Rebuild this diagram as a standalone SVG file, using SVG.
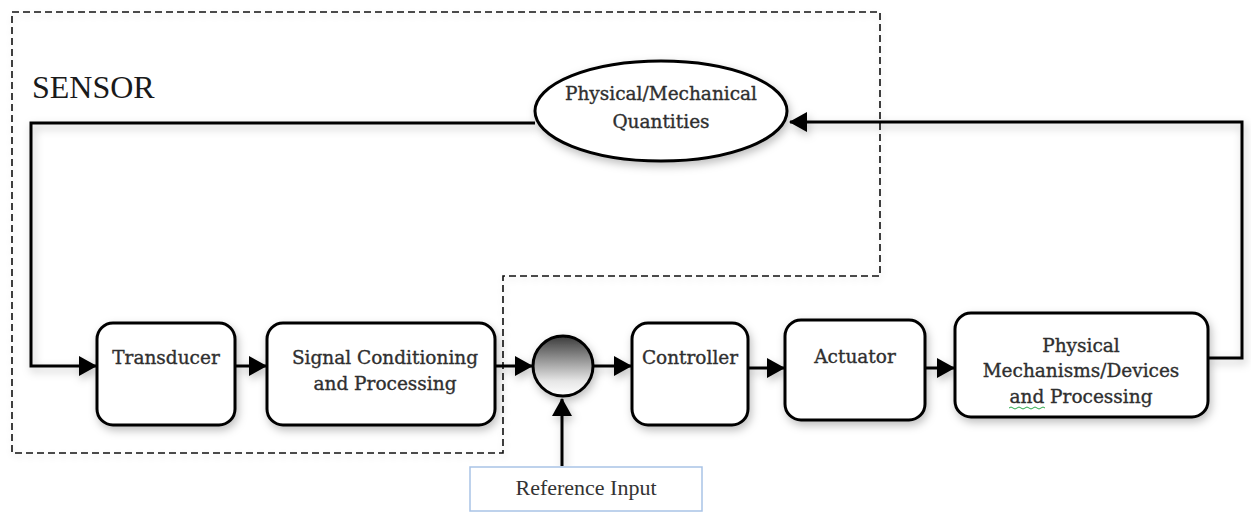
<svg xmlns="http://www.w3.org/2000/svg" width="1251" height="514" viewBox="0 0 1251 514">
  <style>
    .box { fill: #ffffff; stroke: #000000; stroke-width: 3; }
    .lbl { font-family: "DejaVu Serif", "Liberation Serif", serif; font-size: 18.5px; fill: #2f2f2f; stroke: #2f2f2f; stroke-width: 0.35; text-anchor: middle; }
    .wire { fill: none; stroke: #000000; stroke-width: 3; }
    .boundary { fill: none; stroke: #111111; stroke-width: 1.6; stroke-dasharray: 7 4; }
  </style>
  <defs>
    <filter id="shadow" x="-20%" y="-20%" width="140%" height="160%">
      <feDropShadow dx="2" dy="4" stdDeviation="4" flood-color="#000000" flood-opacity="0.25"/>
    </filter>
    <filter id="softShadow" x="-5%" y="-5%" width="110%" height="115%">
      <feDropShadow dx="1" dy="3" stdDeviation="3" flood-color="#000000" flood-opacity="0.12"/>
    </filter>
    <marker id="arrow" viewBox="0 0 18 20" refX="17" refY="10" markerWidth="18" markerHeight="20" markerUnits="userSpaceOnUse" orient="auto">
      <path d="M0,0 L18,10 L0,20 Z" fill="#000000"/>
    </marker>
    <linearGradient id="junctionFill" x1="0" y1="0" x2="0" y2="1">
      <stop offset="0" stop-color="#3a3a3a"/>
      <stop offset="0.75" stop-color="#e6e6e6"/>
      <stop offset="1" stop-color="#ffffff"/>
    </linearGradient>
  </defs>

  <rect width="1251" height="514" fill="#ffffff"/>

  <!-- sensor boundary -->
  <g id="sensor-boundary">
    <path class="boundary" filter="url(#softShadow)" d="M12,12 H880 V276 H503 V453 H12 Z"/>
    <text x="32" y="98" font-family="'Liberation Serif', serif" font-size="32" fill="#1a1a1a">SENSOR</text>
  </g>

  <!-- connectors -->
  <g id="connectors" filter="url(#shadow)">
    <path class="wire" d="M535,123 H31 V366 H96" marker-end="url(#arrow)"/>
    <path class="wire" d="M235,366 H266" marker-end="url(#arrow)"/>
    <path class="wire" d="M495,366 H532" marker-end="url(#arrow)"/>
    <path class="wire" d="M593,366 H631" marker-end="url(#arrow)"/>
    <path class="wire" d="M748,368 H784" marker-end="url(#arrow)"/>
    <path class="wire" d="M925,368 H954" marker-end="url(#arrow)"/>
    <path class="wire" d="M1208,358 H1242 V122 H790" marker-end="url(#arrow)"/>
    <path class="wire" d="M562,466 V399" marker-end="url(#arrow)"/>
  </g>

  <g id="quantities">
    <ellipse class="box" cx="661" cy="111" rx="126" ry="50" filter="url(#shadow)"/>
    <text class="lbl" x="661" y="100">Physical/Mechanical</text>
    <text class="lbl" x="661" y="128">Quantities</text>
  </g>

  <g id="transducer">
    <rect class="box" x="97" y="323" width="138" height="102" rx="16" filter="url(#shadow)"/>
    <text class="lbl" x="166" y="364">Transducer</text>
  </g>

  <g id="signal-conditioning">
    <rect class="box" x="267" y="323" width="228" height="102" rx="16" filter="url(#shadow)"/>
    <text class="lbl" x="385" y="364">Signal Conditioning</text>
    <text class="lbl" x="385" y="390">and Processing</text>
  </g>

  <g id="summing-junction">
    <circle cx="563" cy="366" r="30" fill="url(#junctionFill)" stroke="#000000" stroke-width="3" filter="url(#shadow)"/>
  </g>

  <g id="controller">
    <rect class="box" x="632" y="323" width="116" height="102" rx="16" filter="url(#shadow)"/>
    <text class="lbl" x="690" y="364">Controller</text>
  </g>

  <g id="actuator">
    <rect class="box" x="785" y="320" width="140" height="100" rx="16" filter="url(#shadow)"/>
    <text class="lbl" x="855" y="363">Actuator</text>
  </g>

  <g id="physical-mechanisms">
    <rect class="box" x="955" y="313" width="253" height="104" rx="16" filter="url(#shadow)"/>
    <text class="lbl" x="1081" y="352">Physical</text>
    <text class="lbl" x="1081" y="377">Mechanisms/Devices</text>
    <text class="lbl" x="1081" y="403">and Processing</text>
    <path d="M1009,408 q2,-2 4,0 t4,0 t4,0 t4,0 t4,0 t4,0 t4,0 t4,0 t4,0" fill="none" stroke="#2aa84a" stroke-width="1"/>
  </g>

  <g id="reference-input">
    <rect x="470" y="467" width="232" height="44" fill="#ffffff" stroke="#a9c3e6" stroke-width="1.5"/>
    <text x="586" y="495" font-family="'Liberation Serif', serif" font-size="22" fill="#333333" text-anchor="middle">Reference Input</text>
  </g>
</svg>
